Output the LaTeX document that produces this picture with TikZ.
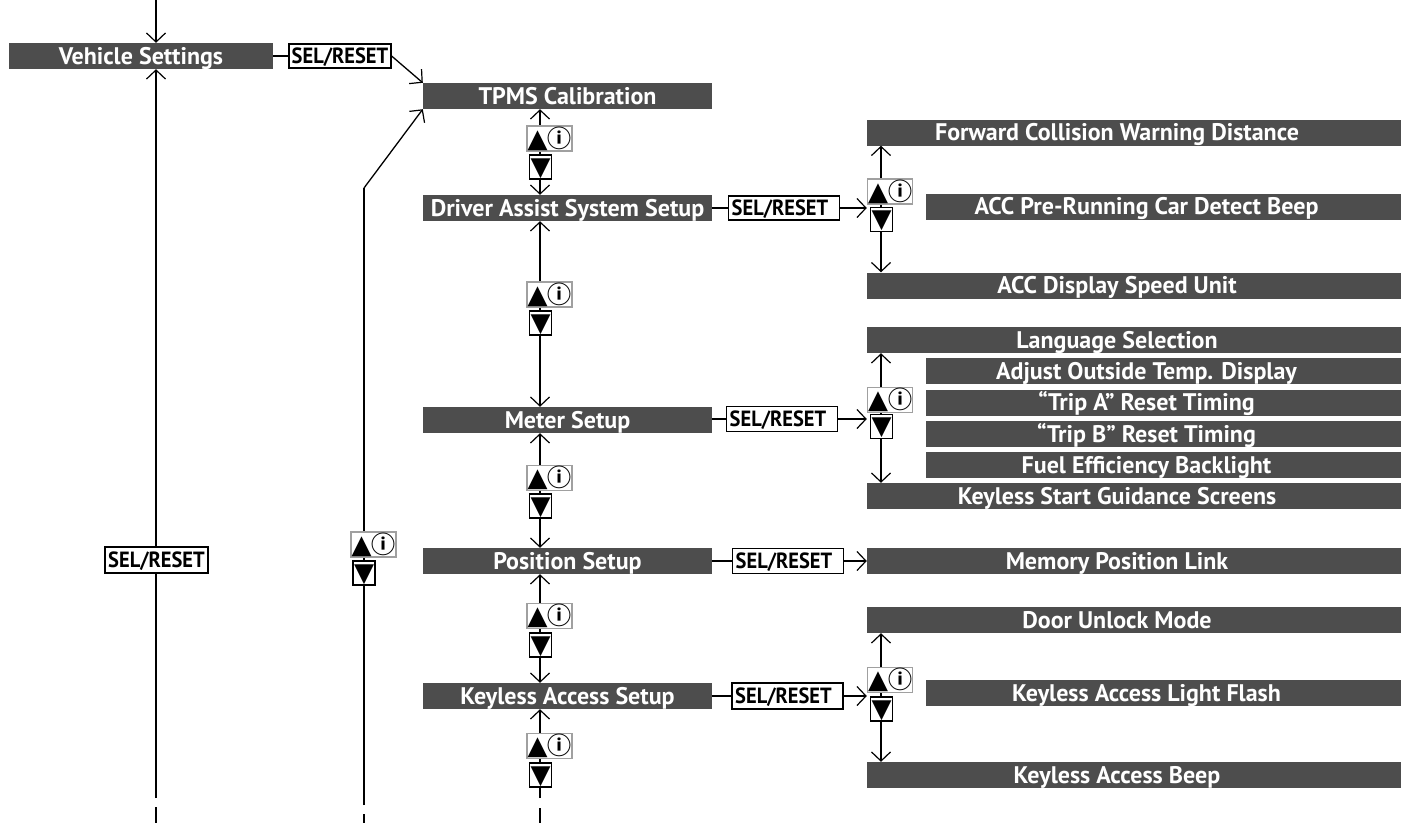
\documentclass[tikz,border=0pt]{standalone}
\usepackage{fontspec}
\setmainfont{PT Sans}
\newfontfamily\symf{DejaVu Sans}
\newfontfamily\cjkf{Noto Sans CJK SC}
\usetikzlibrary{arrows.meta}
\definecolor{barc}{HTML}{4D4D4D}
\definecolor{boxgray}{HTML}{A0A0A0}
\newcommand\selt{\scalebox{0.93}[1]{SEL/RESET}}
\newcommand\upinfo{{\symf\fontsize{26}{28}\selectfont ▲}{\cjkf\fontsize{24}{26}\selectfont\bfseries ⓘ}}
\tikzset{
  bar/.style={fill=barc, text=white, inner sep=0pt, minimum height=26pt,
    font=\fontsize{24}{26}\selectfont\bfseries, text height=16.5pt, text depth=0pt},
  fullbar/.style={bar, minimum width=534pt},
  indbar/.style={bar, minimum width=475pt},
  midbar/.style={bar, minimum width=289pt},
  selbox/.style={draw, line width=1.2pt, fill=white, inner sep=0pt, minimum height=25pt,
    font=\fontsize{22}{24}\selectfont\bfseries, text height=15pt, text depth=0pt},
  upbox/.style={draw=boxgray, line width=1.2pt, fill=white, inner sep=0pt,
    minimum width=45pt, minimum height=25pt, text height=18pt, text depth=1pt},
  dnbox/.style={draw, line width=1.2pt, fill=white, inner sep=0pt,
    minimum width=22pt, minimum height=24pt, font=\symf\fontsize{26}{28}\selectfont,
    text height=17pt, text depth=1pt},
  link/.style={line width=2pt},
  arr/.style={link, -{Straight Barb[length=9pt, width=19pt, line width=1.2pt]}},
  biarr/.style={link, {Straight Barb[length=9pt, width=19pt, line width=1.2pt]}-{Straight Barb[length=9pt, width=19pt, line width=1.2pt]}},
  thinarr/.style={line width=1.3pt, -{Straight Barb[length=9pt, width=19pt, line width=1.2pt]}},
}
\begin{document}
\begin{tikzpicture}[x=1pt, y=-1pt]
\path[fill=white] (0,0) rectangle (1409,823);
\useasboundingbox (0,0) rectangle (1409,823);

% column coordinates
\coordinate (lx) at (156,0);
\coordinate (mx) at (364,0);
\coordinate (cx) at (540,0);
\coordinate (rx) at (881,0);

% left bar
\node[bar, minimum width=264pt] (vs) at (141,56) {Vehicle Settings};
\node[selbox, minimum width=102pt, minimum height=24pt] (srtop) at (340,56) {\selt};

% middle bars
\node[midbar] (tpms) at (567.5,96) {TPMS Calibration};
\node[midbar] (das) at (567.5,208) {Driver Assist System Setup};
\node[midbar] (ms) at (567.5,420) {Meter Setup};
\node[midbar] (ps) at (567.5,561) {Position Setup};
\node[midbar] (kas) at (567.5,696) {Keyless Access Setup};

% right bars
\node[fullbar] (fcw) at (1134,132.5) {Forward Collision Warning Distance\hspace*{34pt}};
\node[indbar] (accb) at (1163.5,206.5) {ACC Pre-Running Car Detect Beep\hspace*{34pt}};
\node[fullbar] (accd) at (1134,285.5) {ACC Display Speed Unit\hspace*{34pt}};
\node[fullbar] (lang) at (1134,340) {Language Selection\hspace*{34pt}};
\node[indbar] (adj) at (1163.5,371) {Adjust Outside Temp. Display\hspace*{34pt}};
\node[indbar] (tripa) at (1163.5,402.5) {“Trip A” Reset Timing\hspace*{34pt}};
\node[indbar] (tripb) at (1163.5,434) {“Trip B” Reset Timing\hspace*{34pt}};
\node[indbar] (fuel) at (1163.5,465) {Fuel Efficiency Backlight\hspace*{34pt}};
\node[fullbar] (kss) at (1134,496) {Keyless Start Guidance Screens\hspace*{34pt}};
\node[fullbar] (mpl) at (1134,561) {Memory Position Link\hspace*{34pt}};
\node[fullbar] (dum) at (1134,620) {Door Unlock Mode\hspace*{34pt}};
\node[indbar] (kalf) at (1163.5,693) {Keyless Access Light Flash\hspace*{34pt}};
\node[fullbar] (kab) at (1134,775) {Keyless Access Beep\hspace*{34pt}};

% free-end coordinates
\coordinate (lb1) at (156,798);
\coordinate (lb2) at (156,807);
\coordinate (lb3) at (156,823);
\coordinate (mb1) at (364,805);
\coordinate (mb2) at (364,814);
\coordinate (mb3) at (364,823);
\coordinate (mk) at (364,188);
\coordinate (cb1) at (540,798);
\coordinate (cb2) at (540,808);
\coordinate (cb3) at (540,823);

% left column
\draw[arr] (lx) -- (vs.north -| lx);
\draw[arr] (lb1) -- (vs.south -| lx);
\draw[link] (lb2) -- (lb3);
\draw[link] (vs.east) -- (vs.east -| srtop.west);
\draw[thinarr] (srtop.east) -- (tpms.north west);

% second column
\draw[link] (mb1) -- (mk);
\draw[thinarr] (mk) -- (tpms.south west);
\draw[link] (mb2) -- (mb3);

% centre column
\draw[biarr] (tpms.south -| cx) -- (das.north -| cx);
\draw[biarr] (das.south -| cx) -- (ms.north -| cx);
\draw[biarr] (ms.south -| cx) -- (ps.north -| cx);
\draw[biarr] (ps.south -| cx) -- (kas.north -| cx);
\draw[arr] (cb1) -- (kas.south -| cx);
\draw[link] (cb2) -- (cb3);

% right column
\draw[biarr] (fcw.south -| rx) -- (accd.north -| rx);
\draw[biarr] (lang.south -| rx) -- (kss.north -| rx);
\draw[biarr] (dum.south -| rx) -- (kab.north -| rx);

% SEL/RESET boxes
\node[selbox, minimum width=103pt, minimum height=26pt] (srl) at (156.5,560) {\selt};
\node[selbox, minimum width=110pt, minimum height=24pt] (sr1) at (784,208) {\hspace*{3pt}\selt\hspace*{11pt}};
\node[selbox, minimum width=110pt] (sr2) at (782,419) {\hspace*{3pt}\selt\hspace*{11pt}};
\node[selbox, minimum width=110pt] (sr3) at (788,561) {\hspace*{3pt}\selt\hspace*{11pt}};
\node[selbox, minimum width=111pt, minimum height=26pt] (sr4) at (787.5,696) {\hspace*{3pt}\selt\hspace*{11pt}};

\draw[link] (das.east) -- (sr1.west);
\draw[arr] (sr1.east) -- (sr1.east -| fcw.west);
\draw[link] (ms.east |- sr2.west) -- (sr2.west);
\draw[arr] (sr2.east) -- (sr2.east -| lang.west);
\draw[link] (ps.east) -- (sr3.west);
\draw[arr] (sr3.east) -- (mpl.west);
\draw[link] (kas.east) -- (sr4.west);
\draw[arr] (sr4.east) -- (sr4.east -| dum.west);

% up / down key boxes, centre column
\node[upbox] (u1) at (549.5,138.5) {\upinfo};
\node[dnbox] (d1) at (540.5,167) {▼};
\node[upbox] (u2) at (549.5,294.5) {\upinfo};
\node[dnbox] (d2) at (540.5,323) {▼};
\node[upbox] (u3) at (549.5,478) {\upinfo};
\node[dnbox] (d3) at (540.5,506) {▼};
\node[upbox] (u4) at (549.5,616) {\upinfo};
\node[dnbox] (d4) at (540.5,645) {▼};
\node[upbox] (u5) at (549.5,746) {\upinfo};
\node[dnbox] (d5) at (540.5,775) {▼};
% second column
\node[upbox] (u6) at (373.5,544.5) {\upinfo};
\node[dnbox] (d6) at (364,573) {▼};
% right column
\node[upbox] (u7) at (890,191.5) {\upinfo};
\node[dnbox] (d7) at (881.5,219.5) {▼};
\node[upbox] (u8) at (890,400) {\upinfo};
\node[dnbox] (d8) at (881.5,426.5) {▼};
\node[upbox] (u9) at (890,680) {\upinfo};
\node[dnbox] (d9) at (881.5,709) {▼};
\end{tikzpicture}
\end{document}
